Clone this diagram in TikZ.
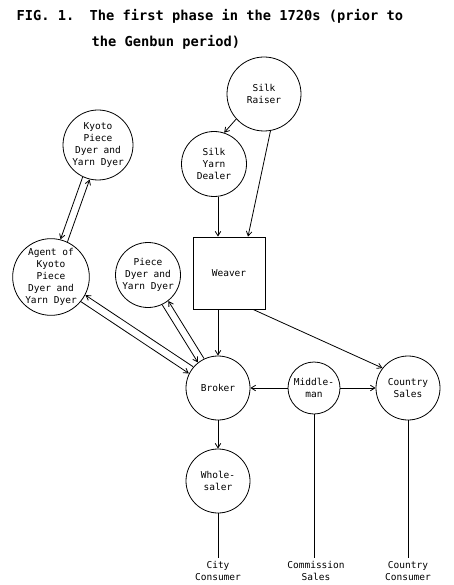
\documentclass[tikz,border=0pt]{standalone}
\usepackage{fontspec}
\setmonofont{DejaVu Sans Mono}
\usetikzlibrary{arrows.meta}

\begin{document}
\begin{tikzpicture}[x=1pt, y=-1pt, line width=0.8pt,
  >={Straight Barb[length=4.5pt,width=5.5pt]},
  every node/.style={font=\fontsize{9.5}{12}\selectfont\ttfamily, align=center},
  actor/.style={draw, circle, inner sep=0pt},
  headline/.style={anchor=west, font=\fontsize{13.7}{16}\selectfont\ttfamily\bfseries}]
\useasboundingbox (0,0) rectangle (453,585);
% title
\node[headline] (fig) at (13,16) {FIG. 1.};
\node[headline] (title) at (86,16) {The first phase in the 1720s (prior to};
\node[headline] (title2) at (88,42) {the Genbun period)};
% suppliers
\node[actor, minimum size=74pt] (raiser) at (264,94) {Silk\\Raiser};
\node[actor, minimum size=65pt] (dealer) at (214,164) {Silk\\Yarn\\Dealer};
\node[actor, minimum size=70pt] (kyoto) at (98,145) {Kyoto\\Piece\\Dyer and\\Yarn Dyer};
\node[draw, minimum width=72pt, minimum height=72pt] (weaver) at (229,273) {Weaver};
\node[actor, minimum size=72pt] (agent) at (51,277) {Agent of\\Kyoto\\Piece\\Dyer and\\Yarn Dyer};
\node[actor, minimum size=65pt] (piecedyer) at (148,275) {Piece\\Dyer and\\Yarn Dyer};
% trade
\node[actor, minimum size=64pt] (broker) at (218,388) {Broker};
\node[actor, minimum size=52pt] (middleman) at (314,388) {Middle-\\man};
\node[actor, minimum size=64pt] (country) at (408,388) {Country\\Sales};
\node[actor, minimum size=64pt] (wholesaler) at (218,481) {Whole-\\saler};
% outlets
\node (city) at (218,571) {City\\Consumer};
\node (comm) at (316,571) {Commission\\Sales};
\node (ccons) at (408,571) {Country\\Consumer};
\draw[->] (raiser.222) -- (dealer.72);
\draw[->] (raiser.280) -- ([xshift=19pt]weaver.north);
\draw[->] ([xshift=4pt]dealer.south) -- ([xshift=4pt]dealer.south |- weaver.north);
\draw[->, transform canvas={shift={(-3.5,-1.2)}}] (kyoto) -- (agent);
\draw[->, transform canvas={shift={(3.5,1.2)}}] (agent) -- (kyoto);
\draw[->, transform canvas={shift={(2.2,-3.3)}}] (broker) -- (agent);
\draw[->, transform canvas={shift={(-2.2,3.3)}}] (agent) -- (broker);
\draw[->, transform canvas={shift={(-3.1,1.9)}}] (piecedyer) -- (broker);
\draw[->, transform canvas={shift={(3.1,-1.9)}}] (broker) -- (piecedyer);
\draw[->] (broker.north |- weaver.south) -- (broker.north);
\draw[->] ([xshift=24pt]weaver.south) -- (country.142);
\draw[->] (middleman) -- (broker);
\draw[->] (middleman) -- (country);
\draw[->] (broker) -- (wholesaler);
\draw (wholesaler) -- (city);
\draw (middleman.south) -- (middleman.south |- comm.north);
\draw (country) -- (ccons);
\end{tikzpicture}
\end{document}
